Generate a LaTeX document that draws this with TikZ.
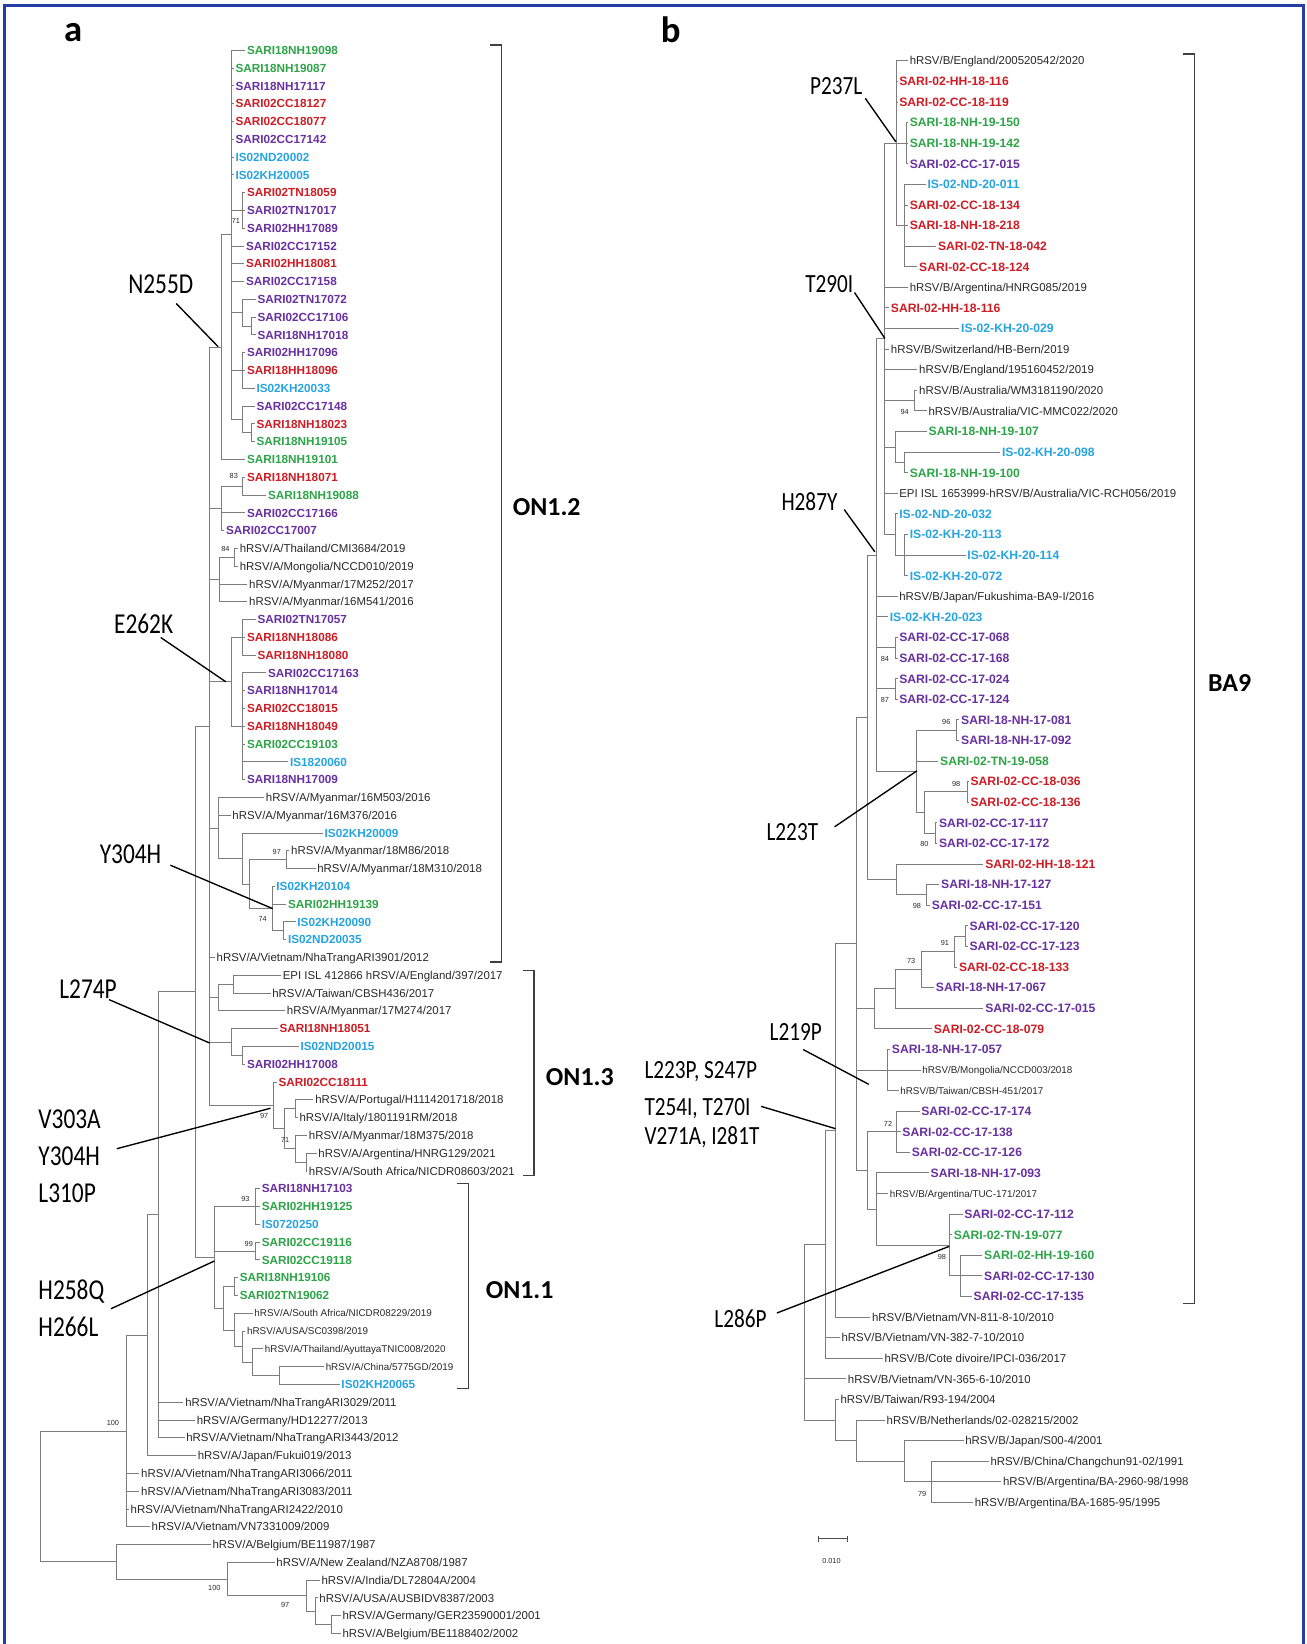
\documentclass[tikz,border=0pt]{standalone}
\usepackage{fontspec}
\setmainfont{Liberation Sans}
\newfontfamily\annfont{Carlito}[FakeStretch=0.81]
\newfontfamily\cladefont{Carlito}

\definecolor{sgreen}{RGB}{46,164,72}
\definecolor{spurple}{RGB}{104,48,160}
\definecolor{sred}{RGB}{206,28,36}
\definecolor{sblue}{RGB}{38,164,226}
\definecolor{treegray}{RGB}{125,125,125}
\definecolor{framebl}{RGB}{36,62,164}
\definecolor{lblack}{RGB}{40,40,40}

\tikzset{
  br/.style={draw=treegray, line width=0.9pt},
  la/.style={anchor=west, inner xsep=1.5pt, inner ysep=0pt, text height=8pt, text depth=0pt, font=\fontsize{11.2}{13}\selectfont\bfseries},
  lb/.style={la, text height=8.3pt, font=\fontsize{11.6}{13}\selectfont\bfseries},
  lk/.style={anchor=west, inner xsep=1.5pt, inner ysep=0pt, text height=7.8pt, text depth=0pt, text=lblack, font=\fontsize{10.9}{12}\selectfont},
  ls/.style={lk, text height=6.7pt, font=\fontsize{9.4}{11}\selectfont},
  bs/.style={inner sep=0pt, text=lblack, font=\fontsize{7}{8}\selectfont},
  ann/.style={inner sep=0pt, font=\annfont\fontsize{27.5}{30}\selectfont},
  annb/.style={inner sep=0pt, font=\annfont\fontsize{25}{28}\selectfont},
  mut/.style={draw=black, line width=1.3pt},
  clade/.style={inner sep=0pt, font=\cladefont\bfseries\fontsize{24.7}{26}\selectfont},
  brack/.style={draw=black!75, line width=1pt},
  panel/.style={inner sep=0pt, font=\cladefont\bfseries\fontsize{35}{36}\selectfont},
  outerframe/.style={draw=framebl, line width=2.5pt},
}

\begin{document}
\begin{tikzpicture}[x=1pt,y=-1pt]
\useasboundingbox (0,0) rectangle (1246,1568);
\draw[outerframe] (4,1568) -- (4,5) -- (1243,5) -- (1243,1568);

\node[panel, anchor=base west] (pa) at (61,40) {a};
\node[panel, anchor=base west] (pb) at (630,41) {b};

% ================= tree a (ON1) =================
\begin{scope}[y=-16.966pt, yshift=-31.034pt]
\node[la,sgreen]  (a1) at (234,1) {SARI18NH19098};
\node[la,sgreen]  (a2) at (223,2) {SARI18NH19087};
\node[la,spurple] (a3) at (223,3) {SARI18NH17117};
\node[la,sred]    (a4) at (223,4) {SARI02CC18127};
\node[la,sred]    (a5) at (223,5) {SARI02CC18077};
\node[la,spurple] (a6) at (223,6) {SARI02CC17142};
\node[la,sblue]   (a7) at (223,7) {IS02ND20002};
\node[la,sblue]   (a8) at (223,8) {IS02KH20005};
\node[la,sred]    (a9) at (234,9) {SARI02TN18059};
\node[la,spurple] (a10) at (234,10) {SARI02TN17017};
\node[la,spurple] (a11) at (234,11) {SARI02HH17089};
\node[la,spurple] (a12) at (233,12) {SARI02CC17152};
\node[la,sred]    (a13) at (233,13) {SARI02HH18081};
\node[la,spurple] (a14) at (233,14) {SARI02CC17158};
\node[la,spurple] (a15) at (244,15) {SARI02TN17072};
\node[la,spurple] (a16) at (244,16) {SARI02CC17106};
\node[la,spurple] (a17) at (244,17) {SARI18NH17018};
\node[la,spurple] (a18) at (234,18) {SARI02HH17096};
\node[la,sred]    (a19) at (234,19) {SARI18HH18096};
\node[la,sblue]   (a20) at (243,20) {IS02KH20033};
\node[la,spurple] (a21) at (243,21) {SARI02CC17148};
\node[la,sred]    (a22) at (243,22) {SARI18NH18023};
\node[la,sgreen]  (a23) at (243,23) {SARI18NH19105};
\node[la,sgreen]  (a24) at (234,24) {SARI18NH19101};
\node[la,sred]    (a25) at (234,25) {SARI18NH18071};
\node[la,sgreen]  (a26) at (254,26) {SARI18NH19088};
\node[la,spurple] (a27) at (234,27) {SARI02CC17166};
\node[la,spurple] (a28) at (214,28) {SARI02CC17007};
\node[lk] (a29) at (227,29) {hRSV/A/Thailand/CMI3684/2019};
\node[lk] (a30) at (227,30) {hRSV/A/Mongolia/NCCD010/2019};
\node[lk] (a31) at (236,31) {hRSV/A/Myanmar/17M252/2017};
\node[lk] (a32) at (236,32) {hRSV/A/Myanmar/16M541/2016};
\node[la,spurple] (a33) at (244,33) {SARI02TN17057};
\node[la,sred]    (a34) at (234,34) {SARI18NH18086};
\node[la,sred]    (a35) at (244,35) {SARI18NH18080};
\node[la,spurple] (a36) at (254,36) {SARI02CC17163};
\node[la,spurple] (a37) at (234,37) {SARI18NH17014};
\node[la,sred]    (a38) at (234,38) {SARI02CC18015};
\node[la,sred]    (a39) at (234,39) {SARI18NH18049};
\node[la,sgreen]  (a40) at (234,40) {SARI02CC19103};
\node[la,sblue]   (a41) at (275,41) {IS1820060};
\node[la,spurple] (a42) at (234,42) {SARI18NH17009};
\node[lk] (a43) at (252,43) {hRSV/A/Myanmar/16M503/2016};
\node[lk] (a44) at (220,44) {hRSV/A/Myanmar/16M376/2016};
\node[la,sblue]   (a45) at (308,45) {IS02KH20009};
\node[lk] (a46) at (276,46) {hRSV/A/Myanmar/18M86/2018};
\node[lk] (a47) at (301,47) {hRSV/A/Myanmar/18M310/2018};
\node[la,sblue]   (a48) at (262,48) {IS02KH20104};
\node[la,sgreen]  (a49) at (273,49) {SARI02HH19139};
\node[la,sblue]   (a50) at (282,50) {IS02KH20090};
\node[la,sblue]   (a51) at (273,51) {IS02ND20035};
\node[lk] (a52) at (205,52) {hRSV/A/Vietnam/NhaTrangARI3901/2012};
\node[lk] (a53) at (268,53) {EPI ISL 412866 hRSV/A/England/397/2017};
\node[lk] (a54) at (258,54) {hRSV/A/Taiwan/CBSH436/2017};
\node[lk] (a55) at (272,55) {hRSV/A/Myanmar/17M274/2017};
\node[la,sred]    (a56) at (265,56) {SARI18NH18051};
\node[la,sblue]   (a57) at (285,57) {IS02ND20015};
\node[la,spurple] (a58) at (234,58) {SARI02HH17008};
\node[la,sred]    (a59) at (264,59) {SARI02CC18111};
\node[lk] (a60) at (299,60) {hRSV/A/Portugal/H1114201718/2018};
\node[lk] (a61) at (284,61) {hRSV/A/Italy/1801191RM/2018};
\node[lk] (a62) at (293,62) {hRSV/A/Myanmar/18M375/2018};
\node[lk] (a63) at (302,63) {hRSV/A/Argentina/HNRG129/2021};
\node[lk] (a64) at (293,64) {hRSV/A/South Africa/NICDR08603/2021};
\node[la,spurple] (a65) at (248,65) {SARI18NH17103};
\node[la,sgreen]  (a66) at (248,66) {SARI02HH19125};
\node[la,sblue]   (a67) at (248,67) {IS0720250};
\node[la,sgreen]  (a68) at (248,68) {SARI02CC19116};
\node[la,sgreen]  (a69) at (248,69) {SARI02CC19118};
\node[la,sgreen]  (a70) at (227,70) {SARI18NH19106};
\node[la,sgreen]  (a71) at (227,71) {SARI02TN19062};
\node[ls] (a72) at (241,72) {hRSV/A/South Africa/NICDR08229/2019};
\node[ls] (a73) at (234,73) {hRSV/A/USA/SC0398/2019};
\node[ls] (a74) at (251,74) {hRSV/A/Thailand/AyuttayaTNIC008/2020};
\node[ls] (a75) at (309,75) {hRSV/A/China/5775GD/2019};
\node[la,sblue]   (a76) at (324,76) {IS02KH20065};
\node[lk] (a77) at (175,77) {hRSV/A/Vietnam/NhaTrangARI3029/2011};
\node[lk] (a78) at (186,78) {hRSV/A/Germany/HD12277/2013};
\node[lk] (a79) at (176,79) {hRSV/A/Vietnam/NhaTrangARI3443/2012};
\node[lk] (a80) at (187,80) {hRSV/A/Japan/Fukui019/2013};
\node[lk] (a81) at (133,81) {hRSV/A/Vietnam/NhaTrangARI3066/2011};
\node[lk] (a82) at (133,82) {hRSV/A/Vietnam/NhaTrangARI3083/2011};
\node[lk] (a83) at (123,83) {hRSV/A/Vietnam/NhaTrangARI2422/2010};
\node[lk] (a84) at (143,84) {hRSV/A/Vietnam/VN7331009/2009};
\node[lk] (a85) at (201,85) {hRSV/A/Belgium/BE11987/1987};
\node[lk] (a86) at (262,86) {hRSV/A/New Zealand/NZA8708/1987};
\node[lk] (a87) at (305,87) {hRSV/A/India/DL72804A/2004};
\node[lk] (a88) at (303,88) {hRSV/A/USA/AUSBIDV8387/2003};
\node[lk] (a89) at (325,89) {hRSV/A/Germany/GER23590001/2001};
\node[lk] (a90) at (325,90) {hRSV/A/Belgium/BE1188402/2002};

% internal nodes
\coordinate (nA911) at (231,10);
\coordinate (nR) at (240,16.5);
\coordinate (nQ) at (231,15.75);
\coordinate (nS2) at (231,19);
\coordinate (nT) at (240,22.5);
\coordinate (nS) at (231,21.75);
\coordinate (nP) at (221,11.375);
\coordinate (nN2) at (211,17.6875);
\coordinate (nU) at (231,25.5);
\coordinate (nV) at (211,26.75);
\coordinate (nW) at (223.4,29.5);
\coordinate (nX) at (209,30.75);
\coordinate (nE1) at (231,34);
\coordinate (nE2) at (231,39);
\coordinate (nE) at (221,36.5);
\coordinate (nG1) at (273,46.5);
\coordinate (nG3) at (270,50.5);
\coordinate (nG2) at (260,49.25);
\coordinate (nF3) at (238,47.875);
\coordinate (nF2) at (231,46.4375);
\coordinate (nF) at (208,44.72);
\coordinate (nH1) at (223,53.5);
\coordinate (nH) at (208,54.25);
\coordinate (nI1) at (231,57.5);
\coordinate (nI) at (221,56.75);
\coordinate (nZ1) at (282,60.5);
\coordinate (nZ3) at (292,63.5);
\coordinate (nZ2) at (282,62.75);
\coordinate (nZ) at (271,61.625);
\coordinate (nY) at (261,60.3125);
\coordinate (nM) at (200,39);
\coordinate (nJ1) at (244,66);
\coordinate (nJ2) at (244,68.5);
\coordinate (nJ3a) at (223.4,70.5);
\coordinate (nJ7) at (266.5,75.5);
\coordinate (nJ6) at (241,74.75);
\coordinate (nJ5) at (231.5,73.875);
\coordinate (nJ4) at (223.4,72.9375);
\coordinate (nJ3) at (213.6,71.72);
\coordinate (nJ) at (204.4,68.86);
\coordinate (nK) at (186,53.93);
\coordinate (nL) at (151.5,66.47);
\coordinate (nL2) at (140.6,73.23);
\coordinate (nO) at (120.5,78.62);
\coordinate (nS1) at (315.8,89.5);
\coordinate (nS0) at (301.2,88.75);
\coordinate (nR0) at (292,87.875);
\coordinate (nQ0) at (217.2,86.94);
\coordinate (nP0) at (111.4,85.97);
\coordinate (nRt) at (38.3,82.3);

% branches
\draw[br] (nA911) |- (a9) (nA911) |- (a10) (nA911) |- (a11);
\draw[br] (nR) |- (a16) (nR) |- (a17);
\draw[br] (nQ) |- (a15) (nQ) |- (nR);
\draw[br] (nS2) |- (a18) (nS2) |- (a19) (nS2) |- (a20);
\draw[br] (nT) |- (a22) (nT) |- (a23);
\draw[br] (nS) |- (a21) (nS) |- (nT);
\draw[br] (nP) |- (a1) (nP) |- (a2) (nP) |- (a3) (nP) |- (a4) (nP) |- (a5)
  (nP) |- (a6) (nP) |- (a7) (nP) |- (a8) (nP) |- (nA911) (nP) |- (a12)
  (nP) |- (a13) (nP) |- (a14) (nP) |- (nQ) (nP) |- (nS2) (nP) |- (nS);
\draw[br] (nN2) |- (nP) (nN2) |- (a24);
\draw[br] (nU) |- (a25) (nU) |- (a26);
\draw[br] (nV) |- (nU) (nV) |- (a27) (nV) |- (a28);
\draw[br] (nW) |- (a29) (nW) |- (a30);
\draw[br] (nX) |- (nW) (nX) |- (a31) (nX) |- (a32);
\draw[br] (nE1) |- (a33) (nE1) |- (a34) (nE1) |- (a35);
\draw[br] (nE2) |- (a36) (nE2) |- (a37) (nE2) |- (a38) (nE2) |- (a39)
  (nE2) |- (a40) (nE2) |- (a41) (nE2) |- (a42);
\draw[br] (nE) |- (nE1) (nE) |- (nE2);
\draw[br] (nG1) |- (a46) (nG1) |- (a47);
\draw[br] (nG3) |- (a50) (nG3) |- (a51);
\draw[br] (nG2) |- (a48) (nG2) |- (a49) (nG2) |- (nG3);
\draw[br] (nF3) |- (nG1) (nF3) |- (nG2);
\draw[br] (nF2) |- (a45) (nF2) |- (nF3);
\draw[br] (nF) |- (a43) (nF) |- (a44) (nF) |- (nF2);
\draw[br] (nH1) |- (a53) (nH1) |- (a54);
\draw[br] (nH) |- (nH1) (nH) |- (a55);
\draw[br] (nI1) |- (a57) (nI1) |- (a58);
\draw[br] (nI) |- (a56) (nI) |- (nI1);
\draw[br] (nZ1) |- (a60) (nZ1) |- (a61);
\draw[br] (nZ3) |- (a63) (nZ3) |- (a64);
\draw[br] (nZ2) |- (a62) (nZ2) |- (nZ3);
\draw[br] (nZ) |- (nZ1) (nZ) |- (nZ2);
\draw[br] (nY) |- (a59) (nY) |- (nZ);
\draw[br] (nM) |- (nN2) (nM) |- (nV) (nM) |- (nX) (nM) |- (nE) (nM) |- (nF)
  (nM) |- (a52) (nM) |- (nH) (nM) |- (nI) (nM) |- (nY);
\draw[br] (nJ1) |- (a65) (nJ1) |- (a66) (nJ1) |- (a67);
\draw[br] (nJ2) |- (a68) (nJ2) |- (a69);
\draw[br] (nJ3a) |- (a70) (nJ3a) |- (a71);
\draw[br] (nJ7) |- (a75) (nJ7) |- (a76);
\draw[br] (nJ6) |- (a74) (nJ6) |- (nJ7);
\draw[br] (nJ5) |- (a73) (nJ5) |- (nJ6);
\draw[br] (nJ4) |- (a72) (nJ4) |- (nJ5);
\draw[br] (nJ3) |- (nJ3a) (nJ3) |- (nJ4);
\draw[br] (nJ) |- (nJ1) (nJ) |- (nJ2) (nJ) |- (nJ3);
\draw[br] (nK) |- (nM) (nK) |- (nJ);
\draw[br] (nL) |- (nK) (nL) |- (a77) (nL) |- (a78) (nL) |- (a79);
\draw[br] (nL2) |- (nL) (nL2) |- (a80);
\draw[br] (nO) |- (nL2) (nO) |- (a81) (nO) |- (a82) (nO) |- (a83) (nO) |- (a84);
\draw[br] (nS1) |- (a89) (nS1) |- (a90);
\draw[br] (nS0) |- (a88) (nS0) |- (nS1);
\draw[br] (nR0) |- (a87) (nR0) |- (nS0);
\draw[br] (nQ0) |- (a86) (nQ0) |- (nR0);
\draw[br] (nP0) |- (a85) (nP0) |- (nQ0);
\draw[br] (nRt) |- (nO) (nRt) |- (nP0);

% bootstrap values
\node[bs] (bsa1) at (225,10.6) {71};
\node[bs] (bsa2) at (223,24.95) {83};
\node[bs] (bsa3) at (215,29.05) {84};
\node[bs] (bsa4) at (264,46.06) {97};
\node[bs] (bsa5) at (250.5,49.81) {74};
\node[bs] (bsa6) at (252,60.93) {97};
\node[bs] (bsa7) at (272,62.28) {71};
\node[bs] (bsa8) at (234,65.56) {93};
\node[bs] (bsa9) at (237.3,68.09) {99};
\node[bs] (bsa10) at (107.7,78.15) {100};
\node[bs] (bsa11) at (204.4,87.45) {100};
\node[bs] (bsa12) at (272,88.4) {97};
\end{scope}

% ================= tree b (BA9) =================
\begin{scope}[y=-19.643pt, yshift=-38.357pt]
\node[lk] (b1) at (866,1) {hRSV/B/England/200520542/2020};
\node[lb,sred]    (b2) at (856,2) {SARI-02-HH-18-116};
\node[lb,sred]    (b3) at (856,3) {SARI-02-CC-18-119};
\node[lb,sgreen]  (b4) at (866,4) {SARI-18-NH-19-150};
\node[lb,sgreen]  (b5) at (866,5) {SARI-18-NH-19-142};
\node[lb,spurple] (b6) at (866,6) {SARI-02-CC-17-015};
\node[lb,sblue]   (b7) at (883,7) {IS-02-ND-20-011};
\node[lb,sred]    (b8) at (866,8) {SARI-02-CC-18-134};
\node[lb,sred]    (b9) at (866,9) {SARI-18-NH-18-218};
\node[lb,sred]    (b10) at (893,10) {SARI-02-TN-18-042};
\node[lb,sred]    (b11) at (875,11) {SARI-02-CC-18-124};
\node[lk] (b12) at (866,12) {hRSV/B/Argentina/HNRG085/2019};
\node[lb,sred]    (b13) at (848,13) {SARI-02-HH-18-116};
\node[lb,sblue]   (b14) at (915,14) {IS-02-KH-20-029};
\node[lk] (b15) at (848,15) {hRSV/B/Switzerland/HB-Bern/2019};
\node[lk] (b16) at (875,16) {hRSV/B/England/195160452/2019};
\node[lk] (b17) at (875,17) {hRSV/B/Australia/WM3181190/2020};
\node[lk] (b18) at (884,18) {hRSV/B/Australia/VIC-MMC022/2020};
\node[lb,sgreen]  (b19) at (884,19) {SARI-18-NH-19-107};
\node[lb,sblue]   (b20) at (954,20) {IS-02-KH-20-098};
\node[lb,sgreen]  (b21) at (866,21) {SARI-18-NH-19-100};
\node[lk] (b22) at (856,22) {EPI ISL 1653999-hRSV/B/Australia/VIC-RCH056/2019};
\node[lb,sblue]   (b23) at (856,23) {IS-02-ND-20-032};
\node[lb,sblue]   (b24) at (866,24) {IS-02-KH-20-113};
\node[lb,sblue]   (b25) at (921,25) {IS-02-KH-20-114};
\node[lb,sblue]   (b26) at (866,26) {IS-02-KH-20-072};
\node[lk] (b27) at (856,27) {hRSV/B/Japan/Fukushima-BA9-I/2016};
\node[lb,sblue]   (b28) at (847,28) {IS-02-KH-20-023};
\node[lb,spurple] (b29) at (856,29) {SARI-02-CC-17-068};
\node[lb,spurple] (b30) at (856,30) {SARI-02-CC-17-168};
\node[lb,spurple] (b31) at (856,31) {SARI-02-CC-17-024};
\node[lb,spurple] (b32) at (856,32) {SARI-02-CC-17-124};
\node[lb,spurple] (b33) at (915,33) {SARI-18-NH-17-081};
\node[lb,spurple] (b34) at (915,34) {SARI-18-NH-17-092};
\node[lb,sgreen]  (b35) at (895,35) {SARI-02-TN-19-058};
\node[lb,sred]    (b36) at (924,36) {SARI-02-CC-18-036};
\node[lb,sred]    (b37) at (924,37) {SARI-02-CC-18-136};
\node[lb,spurple] (b38) at (894,38) {SARI-02-CC-17-117};
\node[lb,spurple] (b39) at (894,39) {SARI-02-CC-17-172};
\node[lb,sred]    (b40) at (938,40) {SARI-02-HH-18-121};
\node[lb,spurple] (b41) at (896,41) {SARI-18-NH-17-127};
\node[lb,spurple] (b42) at (887,42) {SARI-02-CC-17-151};
\node[lb,spurple] (b43) at (923,43) {SARI-02-CC-17-120};
\node[lb,spurple] (b44) at (923,44) {SARI-02-CC-17-123};
\node[lb,sred]    (b45) at (913,45) {SARI-02-CC-18-133};
\node[lb,spurple] (b46) at (891,46) {SARI-18-NH-17-067};
\node[lb,spurple] (b47) at (938,47) {SARI-02-CC-17-015};
\node[lb,sred]    (b48) at (889,48) {SARI-02-CC-18-079};
\node[lb,spurple] (b49) at (849,49) {SARI-18-NH-17-057};
\node[ls] (b50) at (878,50) {hRSV/B/Mongolia/NCCD003/2018};
\node[ls] (b51) at (857,51) {hRSV/B/Taiwan/CBSH-451/2017};
\node[lb,spurple] (b52) at (877,52) {SARI-02-CC-17-174};
\node[lb,spurple] (b53) at (859,53) {SARI-02-CC-17-138};
\node[lb,spurple] (b54) at (868,54) {SARI-02-CC-17-126};
\node[lb,spurple] (b55) at (886,55) {SARI-18-NH-17-093};
\node[ls] (b56) at (847,56) {hRSV/B/Argentina/TUC-171/2017};
\node[lb,spurple] (b57) at (918,57) {SARI-02-CC-17-112};
\node[lb,sgreen]  (b58) at (908,58) {SARI-02-TN-19-077};
\node[lb,sgreen]  (b59) at (937,59) {SARI-02-HH-19-160};
\node[lb,spurple] (b60) at (937,60) {SARI-02-CC-17-130};
\node[lb,spurple] (b61) at (927,61) {SARI-02-CC-17-135};
\node[lk] (b62) at (830,62) {hRSV/B/Vietnam/VN-811-8-10/2010};
\node[lk] (b63) at (801,63) {hRSV/B/Vietnam/VN-382-7-10/2010};
\node[lk] (b64) at (842,64) {hRSV/B/Cote divoire/IPCI-036/2017};
\node[lk] (b65) at (807,65) {hRSV/B/Vietnam/VN-365-6-10/2010};
\node[lk] (b66) at (800,66) {hRSV/B/Taiwan/R93-194/2004};
\node[lk] (b67) at (844,67) {hRSV/B/Netherlands/02-028215/2002};
\node[lk] (b68) at (919,68) {hRSV/B/Japan/S00-4/2001};
\node[lk] (b69) at (943,69) {hRSV/B/China/Changchun91-02/1991};
\node[lk] (b70) at (955,70) {hRSV/B/Argentina/BA-2960-98/1998};
\node[lk] (b71) at (928,71) {hRSV/B/Argentina/BA-1685-95/1995};

% internal nodes
\coordinate (nB2) at (865,5);
\coordinate (nB3) at (862.8,9);
\coordinate (nB1) at (855.3,5);
\coordinate (nB4) at (872,17.5);
\coordinate (nB5a) at (862.8,20.5);
\coordinate (nB5) at (853.6,19.75);
\coordinate (nB6a) at (862.8,25);
\coordinate (nB6) at (853.6,24);
\coordinate (nB0) at (844,14.5);
\coordinate (nC1) at (853.6,29.5);
\coordinate (nC2) at (853.6,31.5);
\coordinate (nC3a) at (912,33.5);
\coordinate (nC3c) at (922.5,36.5);
\coordinate (nC3d) at (892,38.5);
\coordinate (nC3b) at (881.6,37.5);
\coordinate (nC3) at (874.5,35.5);
\coordinate (nC0) at (835.7,25);
\coordinate (nD1a) at (883.7,41.5);
\coordinate (nD1) at (855.3,40.75);
\coordinate (nD0) at (827.3,32.875);
\coordinate (nE1d) at (921.3,43.5);
\coordinate (nE1c) at (910.8,44.25);
\coordinate (nE1b) at (878.7,45.125);
\coordinate (nE1a) at (854.5,46.06);
\coordinate (nEb1) at (834.4,47.03);
\coordinate (nEb2) at (846.1,50);
\coordinate (nF1) at (855.3,53);
\coordinate (nF4) at (916.3,60);
\coordinate (nFb3) at (905.4,58.5);
\coordinate (nFb2) at (835.7,56.75);
\coordinate (nF0) at (827.3,54.875);
\coordinate (nE0) at (817,43.875);
\coordinate (nG0) at (797,52.94);
\coordinate (nH0) at (787.7,58.47);
\coordinate (nJb3) at (888.7,70);
\coordinate (nJb2) at (862.8,69);
\coordinate (nJb1) at (817,68);
\coordinate (nJ0) at (797,67);
\coordinate (nI0) at (766.8,62.735);

% branches
\draw[br] (nB2) |- (b4) (nB2) |- (b5) (nB2) |- (b6);
\draw[br] (nB3) |- (b7) (nB3) |- (b8) (nB3) |- (b9) (nB3) |- (b10) (nB3) |- (b11);
\draw[br] (nB1) |- (b1) (nB1) |- (b2) (nB1) |- (b3) (nB1) |- (nB2) (nB1) |- (nB3);
\draw[br] (nB4) |- (b17) (nB4) |- (b18);
\draw[br] (nB5a) |- (b20) (nB5a) |- (b21);
\draw[br] (nB5) |- (b19) (nB5) |- (nB5a);
\draw[br] (nB6a) |- (b24) (nB6a) |- (b25) (nB6a) |- (b26);
\draw[br] (nB6) |- (b23) (nB6) |- (nB6a);
\draw[br] (nB0) |- (nB1) (nB0) |- (b12) (nB0) |- (b13) (nB0) |- (b14) (nB0) |- (b15)
  (nB0) |- (b16) (nB0) |- (nB4) (nB0) |- (nB5) (nB0) |- (b22) (nB0) |- (nB6);
\draw[br] (nC1) |- (b29) (nC1) |- (b30);
\draw[br] (nC2) |- (b31) (nC2) |- (b32);
\draw[br] (nC3a) |- (b33) (nC3a) |- (b34);
\draw[br] (nC3c) |- (b36) (nC3c) |- (b37);
\draw[br] (nC3d) |- (b38) (nC3d) |- (b39);
\draw[br] (nC3b) |- (nC3c) (nC3b) |- (nC3d);
\draw[br] (nC3) |- (nC3a) (nC3) |- (b35) (nC3) |- (nC3b);
\draw[br] (nC0) |- (nB0) (nC0) |- (b27) (nC0) |- (b28) (nC0) |- (nC1) (nC0) |- (nC2) (nC0) |- (nC3);
\draw[br] (nD1a) |- (b41) (nD1a) |- (b42);
\draw[br] (nD1) |- (b40) (nD1) |- (nD1a);
\draw[br] (nD0) |- (nC0) (nD0) |- (nD1);
\draw[br] (nE1d) |- (b43) (nE1d) |- (b44);
\draw[br] (nE1c) |- (nE1d) (nE1c) |- (b45);
\draw[br] (nE1b) |- (nE1c) (nE1b) |- (b46);
\draw[br] (nE1a) |- (nE1b) (nE1a) |- (b47);
\draw[br] (nEb1) |- (nE1a) (nEb1) |- (b48);
\draw[br] (nEb2) |- (b49) (nEb2) |- (b50) (nEb2) |- (b51);
\draw[br] (nF1) |- (b52) (nF1) |- (b53) (nF1) |- (b54);
\draw[br] (nF4) |- (b59) (nF4) |- (b60) (nF4) |- (b61);
\draw[br] (nFb3) |- (b57) (nFb3) |- (b58) (nFb3) |- (nF4);
\draw[br] (nFb2) |- (b55) (nFb2) |- (b56) (nFb2) |- (nFb3);
\draw[br] (nF0) |- (nF1) (nF0) |- (nFb2);
\draw[br] (nE0) |- (nD0) (nE0) |- (nEb1) (nE0) |- (nEb2) (nE0) |- (nF0);
\draw[br] (nG0) |- (nE0) (nG0) |- (b62);
\draw[br] (nH0) |- (nG0) (nH0) |- (b63) (nH0) |- (b64);
\draw[br] (nJb3) |- (b69) (nJb3) |- (b71);
\draw[br] (nJb2) |- (b68) (nJb2) |- (b70) (nJb2) |- (nJb3);
\draw[br] (nJb1) |- (b67) (nJb1) |- (nJb2);
\draw[br] (nJ0) |- (b66) (nJ0) |- (nJb1);
\draw[br] (nI0) |- (nH0) (nI0) |- (b65) (nI0) |- (nJ0);

% bootstrap values
\node[bs] (bsb1) at (862.8,18.04) {94};
\node[bs] (bsb2) at (844,30.05) {84};
\node[bs] (bsb3) at (844,32.05) {87};
\node[bs] (bsb4) at (902.5,33.1) {96};
\node[bs] (bsb5) at (912,36.1) {98};
\node[bs] (bsb6) at (881.6,39.05) {80};
\node[bs] (bsb7) at (874.5,42.05) {98};
\node[bs] (bsb8) at (901.2,43.83) {91};
\node[bs] (bsb9) at (869.1,44.73) {73};
\node[bs] (bsb10) at (847,52.6) {72};
\node[bs] (bsb11) at (898.3,59.08) {98};
\node[bs] (bsb12) at (879.5,70.6) {79};
\end{scope}

% clade brackets
\draw[brack] (467.3,42.9) -- (478.3,42.9) -- (478.3,917.5) -- (467.3,917.5);
\node[clade] (cON12) at (521.4,483.4) {ON1.2};
\draw[brack] (498.4,925.4) -- (509.3,925.4) -- (509.3,1121) -- (498.4,1121);
\node[clade] (cON13) at (553,1027.5) {ON1.3};
\draw[brack] (436,1128.6) -- (447,1128.6) -- (447,1324.5) -- (436,1324.5);
\node[clade] (cON11) at (495.6,1230) {ON1.1};
\draw[brack] (1128,51.5) -- (1139.1,51.5) -- (1139.1,1242.8) -- (1128,1242.8);
\node[clade] (cBA9) at (1172.7,651) {BA9};

% mutations, tree a
\node[ann, anchor=base] (tN255D) at (153.3,280) {N255D};
\coordinate (sN255D) at (168,289.4);
\coordinate (eN255D) at (208.1,330.7);
\draw[mut] (sN255D) -- (eN255D);
\node[ann, anchor=base] (tE262K) at (137,604.2) {E262K};
\coordinate (sE262K) at (153.3,608);
\coordinate (eE262K) at (215.4,650.3);
\draw[mut] (sE262K) -- (eE262K);
\node[ann, anchor=base] (tY304H) at (124.5,823.2) {Y304H};
\coordinate (sY304H) at (162.5,825.2);
\coordinate (eY304H) at (260,866.6);
\draw[mut] (sY304H) -- (eY304H);
\node[ann, anchor=base] (tL274P) at (84,952.5) {L274P};
\coordinate (sL274P) at (104,953.4);
\coordinate (eL274P) at (200,994.8);
\draw[mut] (sL274P) -- (eL274P);
\node[ann, anchor=base west] (tV303A) at (36.5,1076.3) {V303A};
\node[ann, anchor=base west] (tY304Hb) at (36.5,1111.8) {Y304H};
\node[ann, anchor=base west] (tL310P) at (36.5,1147.3) {L310P};
\coordinate (sV303A) at (111.4,1095.6);
\coordinate (eV303A) at (258,1057);
\draw[mut] (sV303A) -- (eV303A);
\node[ann, anchor=base west] (tH258Q) at (36.5,1239.3) {H258Q};
\node[ann, anchor=base west] (tH266L) at (36.5,1274.8) {H266L};
\coordinate (sH258Q) at (105.9,1248.2);
\coordinate (eH258Q) at (204.5,1202.7);
\draw[mut] (sH258Q) -- (eH258Q);

% mutations, tree b
\node[annb, anchor=base] (tP237L) at (797.5,90) {P237L};
\coordinate (sP237L) at (825.3,93.8);
\coordinate (eP237L) at (854.4,135.2);
\draw[mut] (sP237L) -- (eP237L);
\node[annb, anchor=base] (tT290I) at (791,279) {T290I};
\coordinate (sT290I) at (815,279);
\coordinate (eT290I) at (844,322.8);
\draw[mut] (sT290I) -- (eT290I);
\node[annb, anchor=base] (tH287Y) at (772,486.5) {H287Y};
\coordinate (sH287Y) at (805.2,486);
\coordinate (eH287Y) at (834.4,526.3);
\draw[mut] (sH287Y) -- (eH287Y);
\node[annb, anchor=base] (tL223T) at (755.7,801.3) {L223T};
\coordinate (sL223T) at (796,788.6);
\coordinate (eL223T) at (874.5,735.2);
\draw[mut] (sL223T) -- (eL223T);
\node[annb, anchor=base] (tL219P) at (759,992.2) {L219P};
\coordinate (sL219P) at (766,1001);
\coordinate (eL219P) at (828.6,1034.2);
\draw[mut] (sL219P) -- (eL219P);
\node[annb, anchor=base west] (tL223P) at (614.5,1028.8) {L223P, S247P};
\node[annb, anchor=base west] (tT254I) at (614.5,1063.8) {T254I, T270I};
\node[annb, anchor=base west] (tV271A) at (614.5,1091.5) {V271A, I281T};
\coordinate (sT254I) at (725.9,1055.2);
\coordinate (eT254I) at (796.9,1076.5);
\draw[mut] (sT254I) -- (eT254I);
\node[annb, anchor=base] (tL286P) at (706.3,1265.7) {L286P};
\coordinate (sL286P) at (741,1252.3);
\coordinate (eL286P) at (905.4,1188.7);
\draw[mut] (sL286P) -- (eL286P);

% scale bar
\coordinate (sbL) at (780.6,1467.6);
\coordinate (sbR) at (808.5,1467.6);
\draw[br, draw=black!70] (sbL) -- (sbR);
\draw[br, draw=black!70] ([yshift=3pt]sbL) -- ([yshift=-3pt]sbL) ([yshift=3pt]sbR) -- ([yshift=-3pt]sbR);
\node[bs] (sbT) at (793,1489) {0.010};
\end{tikzpicture}
\end{document}
